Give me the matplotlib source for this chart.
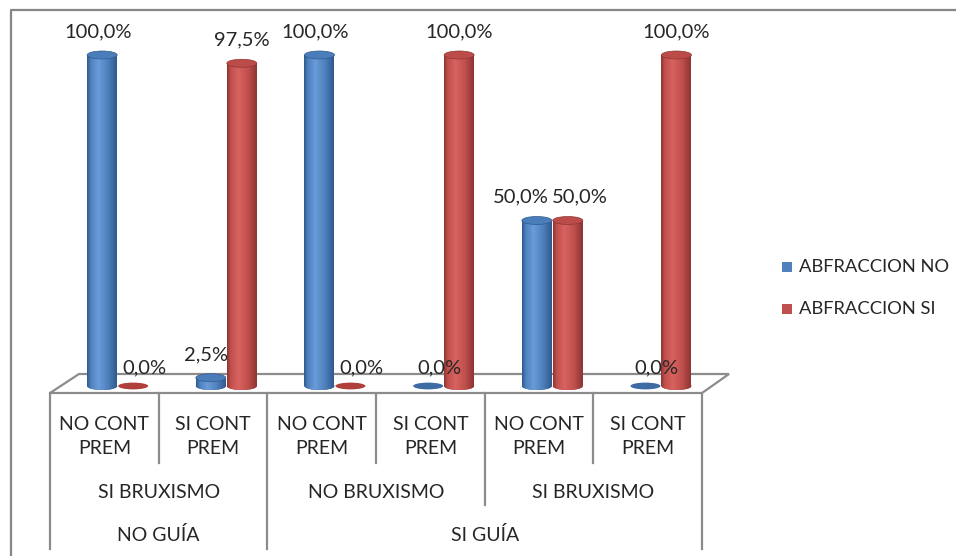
import numpy as np
import matplotlib
matplotlib.use("Agg")
import matplotlib.pyplot as plt
from matplotlib.patches import Ellipse, Polygon, Rectangle
from matplotlib.colors import LinearSegmentedColormap

# ---- data ----
level1 = ["NO CONT\nPREM", "SI CONT\nPREM", "NO CONT\nPREM", "SI CONT\nPREM", "NO CONT\nPREM", "SI CONT\nPREM"]
level2 = ["SI BRUXISMO", "NO BRUXISMO", "SI BRUXISMO"]
level2_span = [2, 2, 2]
level3 = ["NO GUÍA", "SI GUÍA"]
level3_span = [2, 4]
series_names = ["ABFRACCION NO", "ABFRACCION SI"]
abfraccion_no = [100.0, 2.5, 100.0, 0.0, 50.0, 0.0]
abfraccion_si = [0.0, 97.5, 0.0, 100.0, 50.0, 100.0]

FONT = ["Lato", "DejaVu Sans"]
TXT = "#262626"
W, H = 956, 556
fig = plt.figure(figsize=(W / 100, H / 100), dpi=100)

# pixel overlay for decorations (floor, table, border)
pax = fig.add_axes([0, 0, 1, 1], zorder=0)
pax.set_xlim(0, W)
pax.set_ylim(H, 0)
pax.axis("off")

# data axes
X0, CW = 50.0, (702 - 50) / 6.0   # category geometry in pixels
Y0, PPU = 386.0, 3.31               # baseline pixel, pixels per percent
ax = fig.add_axes([0, 0, 1, 1], zorder=1)
ax.patch.set_alpha(0)
ax.set_xlim(-X0 / CW, (W - X0) / CW)
ax.set_ylim(-(H - Y0) / PPU, Y0 / PPU)
ax.axis("off")

GRAY = "#8c8c8c"
# chart border
pax.plot([11, 11, W + 5], [H + 5, 10, 10], color="#868686", lw=1.6)

# floor
floor = Polygon([(50, 393), (79, 374), (729, 374), (702, 393)], closed=True,
                facecolor="white", edgecolor=GRAY, lw=1.6)
pax.add_patch(floor)

# table
n = len(level1)
bx = [X0 + i * CW for i in range(n + 1)]
for i, x in enumerate(bx):
    if i in (0, 2, n):
        yend = 549
    elif i == 4:
        yend = 505
    else:
        yend = 463
    pax.plot([x, x], [393, yend], color=GRAY, lw=1.6)

TFS = 14
for i, lab in enumerate(level1):
    pax.text((bx[i] + bx[i + 1]) / 2, 436, lab, ha="center", va="center",
             fontsize=TFS, family=FONT, color=TXT, linespacing=1.5)
k = 0
for lab, sp in zip(level2, level2_span):
    pax.text((bx[k] + bx[k + sp]) / 2, 492, lab, ha="center", va="center",
             fontsize=TFS, family=FONT, color=TXT)
    k += sp
k = 0
for lab, sp in zip(level3, level3_span):
    pax.text((bx[k] + bx[k + sp]) / 2, 535, lab, ha="center", va="center",
             fontsize=TFS, family=FONT, color=TXT)
    k += sp

# cylinders
colors = {
    0: dict(base="#4F81BD", light="#6A9BDA", dark="#2F5A8E", top="#4B7DBA", flat="#3D6BA3"),
    1: dict(base="#C0504D", light="#D8625F", dark="#8F3533", top="#BC4C49", flat="#B03F3C"),
}
offsets = [0.48, 0.765]
bw = 30.0 / CW
eh = 8.0 / PPU
x_idx = np.arange(n)
LFS = 14.5
both = [(a > 0 and b > 0 and abs(a - b) < 20) for a, b in zip(abfraccion_no, abfraccion_si)]

for s, vals in enumerate([abfraccion_no, abfraccion_si]):
    c = colors[s]
    cmap = LinearSegmentedColormap.from_list(
        "cyl%d" % s, [(0, c["dark"]), (0.12, c["base"]), (0.38, c["light"]),
                      (0.7, c["base"]), (1.0, c["dark"])])
    xs = x_idx + offsets[s]
    bars = ax.bar(xs, vals, width=bw, color=c["base"], linewidth=0, zorder=2 + s)
    for i, (bar, v, xc) in enumerate(zip(bars, vals, xs)):
        lab = f"{v:.1f}".replace(".", ",") + "%"
        if v > 0:
            grad = np.linspace(0, 1, 64).reshape(1, -1)
            im = ax.imshow(grad, cmap=cmap, aspect="auto",
                           extent=(xc - bw / 2, xc + bw / 2, 0, v),
                           zorder=2 + s, interpolation="bilinear")
            im.set_clip_path(bar)
            eb = Ellipse((xc, 0), bw, eh, facecolor=c["dark"], edgecolor="none",
                         zorder=1.9 + s)
            ax.add_patch(eb)
            im2 = ax.imshow(grad, cmap=cmap, aspect="auto",
                            extent=(xc - bw / 2, xc + bw / 2, -eh / 2, 0),
                            zorder=2 + s, interpolation="bilinear")
            im2.set_clip_path(eb)
            ax.add_patch(Ellipse((xc, v), bw, eh, facecolor=c["top"],
                                 edgecolor=c["dark"], lw=0.5, zorder=2.1 + s))
            dx = 0.0
            if both[i]:
                dx = -0.15 if s == 0 else 0.11
            elif s == 0:
                dx = -0.04
            ax.text(xc + dx, v + 7.0, lab, ha="center", va="center",
                    fontsize=LFS, family=FONT, color=TXT, zorder=5)
        else:
            ax.add_patch(Ellipse((xc, 0), bw, eh * 0.85, facecolor=c["flat"],
                                 edgecolor="none", zorder=2 + s))
            ax.text(xc + 0.1, 5.4, lab, ha="center", va="center",
                    fontsize=LFS, family=FONT, color=TXT, zorder=5)

# legend
for j, (name, s) in enumerate(zip(series_names, [0, 1])):
    y = 267 + j * 42
    pax.add_patch(Rectangle((782, y - 5), 10, 10, facecolor=colors[s]["base"],
                            edgecolor="none"))
    pax.text(799, y, name, ha="left", va="center", fontsize=13.2,
             family=FONT, color=TXT)

fig.savefig("out.png", dpi=100)
